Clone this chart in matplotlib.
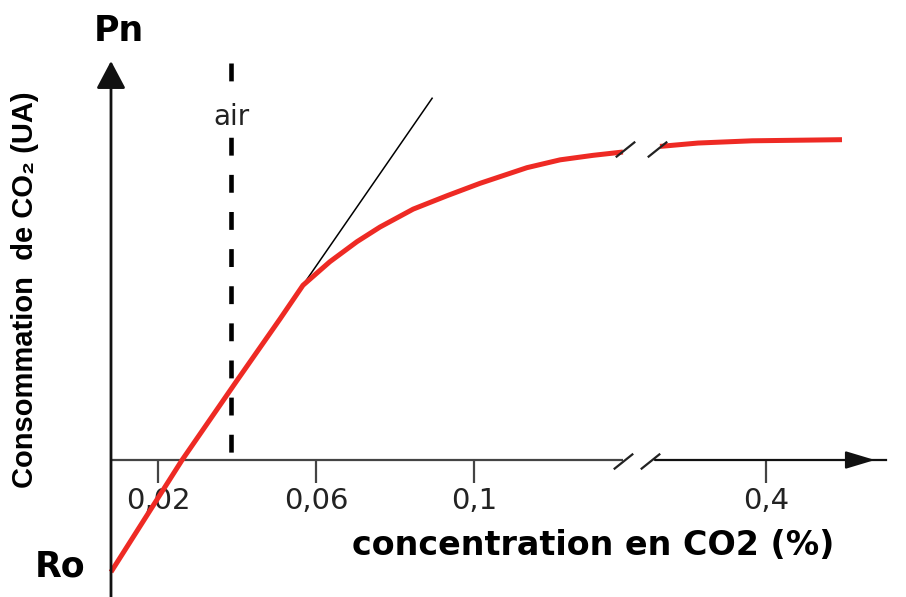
import numpy as np
import matplotlib
matplotlib.use('Agg')
import matplotlib.pyplot as plt

# CO2 concentration (%) and CO2 uptake (UA)
co2_low = [0.0081, 0.0261, 0.0400, 0.0509, 0.0567, 0.0635, 0.0704, 0.0762,
           0.0846, 0.0932, 0.1015, 0.1134, 0.1218, 0.1301, 0.1377]
pn_low = [-1.0, 0.0, 0.71, 1.26, 1.56, 1.77, 1.95, 2.08,
          2.24, 2.36, 2.47, 2.61, 2.68, 2.72, 2.75]
co2_high = [0.2248, 0.2876, 0.3769, 0.5256]
pn_high = [2.80, 2.83, 2.85, 2.86]

tangent_x = [0.0400, 0.0894]
tangent_y = [0.71, 3.23]

air_co2 = 0.0385
tick_vals = [0.02, 0.06, 0.1, 0.4]
tick_labels = ['0,02', '0,06', '0,1', '0,4']

# broken x axis: linear up to 0.14, compressed after 0.2
knots_data = [-0.05, 0.14, 0.2, 0.8]
knots_pix = [-118.5, 632, 645, 1008]


def fwd(x):
    return np.interp(x, knots_data, knots_pix)


def inv(p):
    return np.interp(p, knots_pix, knots_data)


red = '#ee2a24'
axc = '#444444'

fig = plt.figure(figsize=(9.06, 5.97), dpi=100)
ax = fig.add_axes([0, 0, 1, 1])
ax.patch.set_alpha(0)
ax.set_xscale('function', functions=(fwd, inv))
ax.set_xlim(inv(0), inv(906))
ax.set_ylim(-137 / 112, 460 / 112)

for s in ['top', 'right', 'left']:
    ax.spines[s].set_visible(False)
ax.spines['bottom'].set_position(('data', 0))
ax.spines['bottom'].set_visible(False)
ax.set_yticks([])
ax.set_xticks(tick_vals, tick_labels)
ax.xaxis.set_minor_locator(matplotlib.ticker.NullLocator())
ax.tick_params(axis='x', direction='out', length=16.5, width=1.6, color=axc,
               pad=3, labelsize=21, labelcolor='#222222')

x0 = co2_low[0]
# x axis in two pieces with a break
ax.plot([x0, 0.1377], [0, 0], color=axc, lw=1.6, solid_capstyle='butt')
ax.annotate('', xy=(0.580, 0), xytext=(0.2165, 0),
            arrowprops=dict(arrowstyle='-|>,head_length=1.0,head_width=0.3',
                            mutation_scale=18, lw=1.6, color='#111111',
                            shrinkA=0, shrinkB=0))
ax.plot([0.575, 0.598], [0, 0], color='#111111', lw=1.6)
# y axis
ax.annotate('', xy=(x0, 3.5625), xytext=(x0, -137 / 112),
            arrowprops=dict(arrowstyle='-|>,head_length=1.0,head_width=0.53',
                            mutation_scale=17, lw=2.0, color='#111111',
                            shrinkA=0, shrinkB=0))

# air line
ax.plot([air_co2, air_co2], [3.545, 0.045], color='black', lw=3.3,
        ls=(0, (3.9, 4.2)))
ax.text(air_co2, 3.06, 'air', ha='center', va='center', fontsize=20,
        color='#222222', bbox=dict(facecolor='white', edgecolor='none', pad=3))

# tangent and curve
ax.plot(tangent_x, tangent_y, color='black', lw=1.1)
ax.plot(co2_low, pn_low, color=red, lw=3.6, solid_capstyle='butt',
        solid_joinstyle='round')
ax.plot(co2_high, pn_high, color=red, lw=3.6, solid_capstyle='butt')

# break marks
brk = [(-1, -0.8), (1, 0.8)]
ax.plot([0.1377, 0.2083], [-0.01, -0.01], ls='none', marker=brk,
        markersize=14, markeredgewidth=1.6, color='#222222')
ax.plot([0.1382, 0.2198], [2.78, 2.78], ls='none', marker=brk,
        markersize=14, markeredgewidth=1.6, color='#222222')

fig.text(0.1313, 0.948, 'Pn', ha='center', va='center', fontsize=25,
         fontweight='bold', color='black')
fig.text(0.0662, 0.0519, 'Ro', ha='center', va='center', fontsize=25,
         fontweight='bold', color='black')
fig.text(0.655, 0.0871, 'concentration en CO2 (%)', ha='center', va='center',
         fontsize=24, fontweight='bold', color='black')
fig.text(0.0276, 0.514, 'Consommation  de CO\u2082 (UA)', ha='center',
         va='center', rotation=90, fontsize=21, fontweight='bold',
         family=['Liberation Sans Narrow', 'Liberation Sans', 'DejaVu Sans'])

fig.savefig('out.png', dpi=100)
